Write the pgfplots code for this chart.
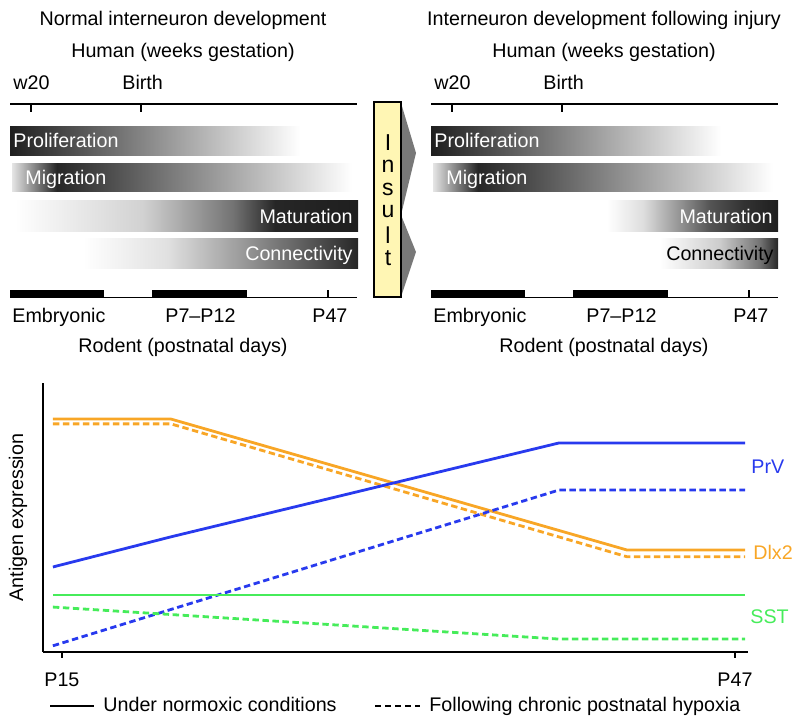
\documentclass[border=0pt]{standalone}
\usepackage{pgfplots}
\pgfplotsset{compat=1.18}
\usepackage{fontspec}
\setmainfont{Liberation Sans}
\definecolor{blueC}{RGB}{40,58,238}
\definecolor{orangeC}{RGB}{248,166,38}
\definecolor{greenC}{RGB}{70,236,90}
\definecolor{insultY}{RGB}{255,246,180}
\definecolor{arrowG}{RGB}{120,120,120}
\colorlet{g0}{white}
\colorlet{g10}{black!10}
\colorlet{g12}{black!12}
\colorlet{g13}{black!13}
\colorlet{g18}{black!18}
\colorlet{g20}{black!20}
\colorlet{g40}{black!40}
\colorlet{g55}{black!55}
\colorlet{g67}{black!67}
\colorlet{g75}{black!75}
\colorlet{g80}{black!80}
\colorlet{g85}{black!85}
\colorlet{g88}{black!88}
\pgfdeclarehorizontalshading{prolif}{100bp}{color(0bp)=(g88); color(25bp)=(g88); color(66.8bp)=(g0); color(100bp)=(g0)}
\pgfdeclarehorizontalshading{migr}{100bp}{color(0bp)=(g10); color(25bp)=(g10); color(31.6bp)=(g85); color(75bp)=(g0); color(100bp)=(g0)}
\pgfdeclarehorizontalshading{maturL}{100bp}{color(0bp)=(g0); color(25bp)=(g0); color(43.7bp)=(g18); color(56.8bp)=(g55); color(62.9bp)=(g85); color(75bp)=(g88); color(100bp)=(g88)}
\pgfdeclarehorizontalshading{connL}{100bp}{color(0bp)=(g0); color(25bp)=(g0); color(40.3bp)=(g12); color(54.1bp)=(g40); color(70.5bp)=(g75); color(75bp)=(g85); color(100bp)=(g85)}
\pgfdeclarehorizontalshading{maturR}{100bp}{color(0bp)=(g0); color(25bp)=(g0); color(35.5bp)=(g13); color(45.5bp)=(g40); color(55.1bp)=(g67); color(64.8bp)=(g80); color(75bp)=(g88); color(100bp)=(g88)}
\pgfdeclarehorizontalshading{connR}{100bp}{color(0bp)=(g0); color(25bp)=(g0); color(50.4bp)=(g20); color(67.4bp)=(g55); color(75bp)=(g85); color(100bp)=(g85)}
\newcommand\fnt{\fontsize{9.85}{11.8}\selectfont}
\begin{document}
\fnt
\begin{tikzpicture}
\begin{axis}[name=canvas, hide axis, scale only axis, width=400pt, height=363pt,
  xmin=0, xmax=800, ymin=0, ymax=726, y dir=reverse, clip=false,
  at={(0,0)}, anchor=south west]
\path (0,0) rectangle (800,726);
% ---------- titles
\node[anchor=base, inner sep=0] at (183,26) {Normal interneuron development};
\node[anchor=base, inner sep=0] at (604,26) {Interneuron development following injury};
\node[anchor=base, inner sep=0] at (183,58) {Human (weeks gestation)};
\node[anchor=base, inner sep=0] at (604,58) {Human (weeks gestation)};
\node[anchor=base west, inner sep=0] at (13,90) {w20};
\node[anchor=base west, inner sep=0] at (122,90) {Birth};
\node[anchor=base west, inner sep=0] at (434,90) {w20};
\node[anchor=base west, inner sep=0] at (543,90) {Birth};
% human timelines
\draw[line width=1pt] (10,104) -- (357,104);
\draw[line width=0.9pt] (31,104) -- (31,112);
\draw[line width=0.9pt] (141,104) -- (141,112);
\draw[line width=1pt] (431,104) -- (778,104);
\draw[line width=0.9pt] (452,104) -- (452,112);
\draw[line width=0.9pt] (562,104) -- (562,112);
% ---------- bars left
\shade[shading=prolif] (10,127) rectangle (357,156);
\shade[shading=migr] (12,164) rectangle (352,192);
\shade[shading=maturL] (15,201) rectangle (358,232);
\shade[shading=connL] (83,239) rectangle (358,269);
\node[anchor=base west, inner sep=0, text=white] at (13,148) {Proliferation};
\node[anchor=base west, inner sep=0, text=white] at (25,185) {Migration};
\node[anchor=base east, inner sep=0, text=white] at (353,224) {Maturation};
\node[anchor=base east, inner sep=0, text=white] at (353,261) {Connectivity};
% ---------- bars right
\shade[shading=prolif] (431,127) rectangle (778,156);
\shade[shading=migr] (433,164) rectangle (773,192);
\shade[shading=maturR] (607,201) rectangle (778,232);
\shade[shading=connR] (660,239) rectangle (778,269);
\node[anchor=base west, inner sep=0, text=white] at (434,148) {Proliferation};
\node[anchor=base west, inner sep=0, text=white] at (446,185) {Migration};
\node[anchor=base east, inner sep=0, text=white] at (773,224) {Maturation};
\node[anchor=base east, inner sep=0, text=black] at (774,261) {Connectivity};
% ---------- rodent timelines
\draw[line width=0.9pt] (10,297.5) -- (357,297.5);
\fill (10,290) rectangle (104,298);
\fill (152,290) rectangle (247,298);
\draw[line width=0.9pt] (328,297) -- (328,290);
\draw[line width=0.9pt] (431,297.5) -- (778,297.5);
\fill (431,290) rectangle (525,298);
\fill (573,290) rectangle (668,298);
\draw[line width=0.9pt] (749,297) -- (749,290);
\node[anchor=base west, inner sep=0] at (12,323) {Embryonic};
\node[anchor=base west, inner sep=0] at (165,323) {P7--P12};
\node[anchor=base west, inner sep=0] at (312,323) {P47};
\node[anchor=base west, inner sep=0] at (433,323) {Embryonic};
\node[anchor=base west, inner sep=0] at (586,323) {P7--P12};
\node[anchor=base west, inner sep=0] at (733,323) {P47};
\node[anchor=base, inner sep=0] at (183,353) {Rodent (postnatal days)};
\node[anchor=base, inner sep=0] at (604,353) {Rodent (postnatal days)};
% ---------- insult box
\fill[arrowG] (401,103) -- (416,153) -- (401,215) -- cycle;
\fill[arrowG] (401,215) -- (416,252) -- (401,297) -- cycle;
\filldraw[fill=insultY, draw=black, line width=0.9pt] (374,102) rectangle (401,297);
\node[font=\fontsize{11.5}{13}\selectfont, inner sep=0] at (388,143) {I};
\node[font=\fontsize{11.5}{13}\selectfont, inner sep=0] at (388,166) {n};
\node[font=\fontsize{11.5}{13}\selectfont, inner sep=0] at (388,189) {s};
\node[font=\fontsize{11.5}{13}\selectfont, inner sep=0] at (388,212) {u};
\node[font=\fontsize{11.5}{13}\selectfont, inner sep=0] at (388,235) {l};
\node[font=\fontsize{11.5}{13}\selectfont, inner sep=0] at (388,258) {t};
% ---------- curve labels
\node[anchor=west, inner sep=0, text=blueC] at (751,467) {PrV};
\node[anchor=west, inner sep=0, text=orangeC] at (753,552) {Dlx2};
\node[anchor=west, inner sep=0, text=greenC] at (750,617) {SST};
% ---------- legend
\draw[line width=1.4pt] (50,706) -- (94,706);
\node[anchor=base west, inner sep=0] at (103,712) {Under normoxic conditions};
\draw[line width=1.4pt, dash pattern=on 3.2pt off 1.8pt] (375,706) -- (420,706);
\node[anchor=base west, inner sep=0] at (429,712) {Following chronic postnatal hypoxia};
\coordinate (blsw) at (43,652);
\end{axis}
\begin{axis}[at={(blsw)}, anchor=south west, scale only axis,
  width=352.5pt, height=134.5pt,
  xmin=14.10, xmax=47.62, ymin=0, ymax=100,
  axis x line*=bottom, axis y line*=left,
  ytick=\empty, xtick={15,47}, xticklabels={\textrm{P15},\textrm{P47}},
  tick align=outside, major tick length=3pt,
  every tick/.style={black, line width=0.8pt},
  axis line style={line width=0.9pt},
  xticklabel style={font=\fnt, yshift=-4pt},
  ylabel={Antigen expression},
  ylabel style={font=\fnt, at={(axis description cs:-0.0355,0.5)}, anchor=center},
  clip=false]
\addplot[orangeC, line width=1.4pt] coordinates {(14.57,86.6) (20.18,86.6) (41.87,37.9) (47.48,37.9)};
\addplot[orangeC, line width=1.4pt, dash pattern=on 3.2pt off 1.8pt] coordinates {(14.57,84.8) (20.18,84.8) (41.87,35.4) (47.48,35.4)};
\addplot[blueC, line width=1.4pt] coordinates {(14.57,31.6) (20.18,42.8) (38.63,77.7) (47.48,77.7)};
\addplot[blueC, line width=1.4pt, dash pattern=on 3.2pt off 1.8pt] coordinates {(14.57,2.3) (38.63,60.2) (47.48,60.2)};
\addplot[greenC, line width=1.4pt] coordinates {(14.57,21.2) (47.48,21.2)};
\addplot[greenC, line width=1.4pt, dash pattern=on 3.2pt off 1.8pt] coordinates {(14.57,16.7) (38.63,4.8) (47.48,4.8)};
\end{axis}
\end{tikzpicture}
\end{document}
